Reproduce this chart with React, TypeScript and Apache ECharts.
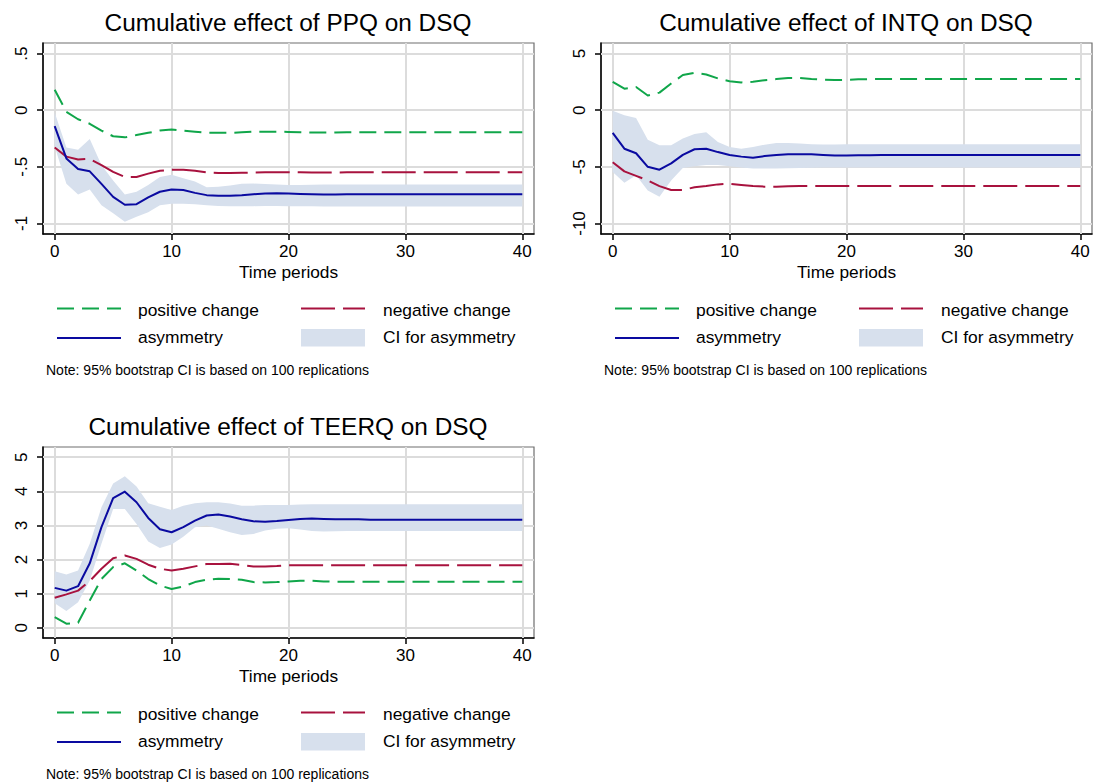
import React, { useEffect, useRef } from "react";
import * as echarts from "echarts";

// ---------- data ----------
const PERIODS = [0, 1, 2, 3, 4, 5, 6, 7, 8, 9, 10, 11, 12, 13, 14, 15, 16, 17, 18, 19, 20, 21, 22, 23, 24, 25, 26, 27, 28, 29, 30, 31, 32, 33, 34, 35, 36, 37, 38, 39, 40];
const X_TICKS = [0, 10, 20, 30, 40];

// PPQ on DSQ
const PPQ_POS = [0.18, -0.015, -0.08, -0.12, -0.18, -0.23, -0.24, -0.22, -0.2, -0.18, -0.17, -0.18, -0.19, -0.2, -0.2, -0.2, -0.195, -0.19, -0.19, -0.19, -0.192, -0.195, -0.197, -0.197, -0.196, -0.195, -0.195, -0.195, -0.195, -0.195, -0.195, -0.195, -0.195, -0.195, -0.195, -0.195, -0.195, -0.195, -0.195, -0.195, -0.195];
const PPQ_NEG = [-0.33, -0.41, -0.435, -0.43, -0.485, -0.545, -0.59, -0.59, -0.56, -0.535, -0.525, -0.525, -0.535, -0.55, -0.555, -0.555, -0.553, -0.55, -0.548, -0.547, -0.547, -0.548, -0.55, -0.551, -0.55, -0.548, -0.548, -0.548, -0.548, -0.548, -0.548, -0.548, -0.548, -0.548, -0.548, -0.548, -0.548, -0.548, -0.548, -0.548, -0.548];
const PPQ_ASYM = [-0.14, -0.426, -0.52, -0.54, -0.65, -0.765, -0.835, -0.83, -0.77, -0.72, -0.7, -0.705, -0.73, -0.75, -0.755, -0.755, -0.75, -0.742, -0.736, -0.733, -0.735, -0.74, -0.743, -0.745, -0.744, -0.743, -0.743, -0.743, -0.743, -0.743, -0.743, -0.743, -0.743, -0.743, -0.743, -0.743, -0.743, -0.743, -0.743, -0.743, -0.743];
const PPQ_HI = [-0.02, -0.33, -0.35, -0.255, -0.485, -0.62, -0.745, -0.72, -0.66, -0.59, -0.57, -0.6, -0.63, -0.68, -0.675, -0.665, -0.65, -0.648, -0.652, -0.655, -0.66, -0.66, -0.658, -0.655, -0.655, -0.655, -0.655, -0.655, -0.655, -0.655, -0.655, -0.655, -0.655, -0.655, -0.655, -0.655, -0.655, -0.655, -0.655, -0.655, -0.655];
const PPQ_LO = [-0.32, -0.65, -0.745, -0.7, -0.84, -0.91, -0.985, -0.94, -0.9, -0.84, -0.825, -0.825, -0.83, -0.84, -0.845, -0.848, -0.848, -0.847, -0.846, -0.846, -0.847, -0.848, -0.849, -0.85, -0.85, -0.85, -0.85, -0.85, -0.85, -0.85, -0.85, -0.85, -0.85, -0.85, -0.85, -0.85, -0.85, -0.85, -0.85, -0.85, -0.85];

// INTQ on DSQ
const INTQ_POS = [2.5, 1.9, 2.05, 1.3, 1.55, 2.35, 3.1, 3.3, 3.15, 2.8, 2.55, 2.45, 2.5, 2.65, 2.75, 2.85, 2.85, 2.75, 2.7, 2.66, 2.68, 2.72, 2.74, 2.75, 2.75, 2.75, 2.75, 2.75, 2.75, 2.75, 2.75, 2.75, 2.75, 2.75, 2.75, 2.75, 2.75, 2.75, 2.75, 2.75, 2.75];
const INTQ_NEG = [-4.6, -5.4, -5.8, -6.2, -6.7, -7.05, -7.05, -6.8, -6.7, -6.55, -6.5, -6.6, -6.7, -6.75, -6.75, -6.72, -6.7, -6.7, -6.7, -6.7, -6.7, -6.7, -6.7, -6.7, -6.7, -6.7, -6.7, -6.7, -6.7, -6.7, -6.7, -6.7, -6.7, -6.7, -6.7, -6.7, -6.7, -6.7, -6.7, -6.7, -6.7];
const INTQ_ASYM = [-2.0, -3.4, -3.8, -5.0, -5.25, -4.7, -3.95, -3.45, -3.4, -3.7, -3.95, -4.1, -4.2, -4.05, -3.95, -3.88, -3.88, -3.9, -3.95, -4.0, -4.0, -3.98, -3.97, -3.96, -3.96, -3.96, -3.96, -3.96, -3.96, -3.96, -3.96, -3.96, -3.96, -3.96, -3.96, -3.96, -3.96, -3.96, -3.96, -3.96, -3.96];
const INTQ_HI = [-0.05, -0.45, -0.7, -2.6, -3.1, -3.1, -2.5, -2.1, -1.95, -2.8, -3.25, -3.4, -3.25, -3.05, -2.9, -2.9, -2.95, -3.0, -3.02, -3.02, -3.0, -3.0, -3.0, -3.0, -3.0, -3.0, -3.0, -3.0, -3.0, -3.0, -3.0, -3.0, -3.0, -3.0, -3.0, -3.0, -3.0, -3.0, -3.0, -3.0, -3.0];
const INTQ_LO = [-5.45, -6.4, -5.75, -7.1, -7.65, -6.2, -5.1, -4.95, -4.85, -4.85, -4.95, -5.05, -5.15, -5.15, -5.15, -5.12, -5.1, -5.08, -5.06, -5.05, -5.05, -5.05, -5.05, -5.05, -5.05, -5.05, -5.05, -5.05, -5.05, -5.05, -5.05, -5.05, -5.05, -5.05, -5.05, -5.05, -5.05, -5.05, -5.05, -5.05, -5.05];

// TEERQ on DSQ
const TEERQ_POS = [0.31, 0.12, 0.15, 0.8, 1.43, 1.78, 1.89, 1.68, 1.43, 1.24, 1.14, 1.21, 1.34, 1.41, 1.44, 1.43, 1.41, 1.34, 1.33, 1.34, 1.36, 1.38, 1.38, 1.36, 1.35, 1.35, 1.35, 1.35, 1.35, 1.35, 1.35, 1.35, 1.35, 1.35, 1.35, 1.35, 1.35, 1.35, 1.35, 1.35, 1.35];
const TEERQ_NEG = [0.88, 0.98, 1.09, 1.37, 1.73, 2.04, 2.12, 2.02, 1.85, 1.73, 1.68, 1.73, 1.8, 1.87, 1.87, 1.875, 1.84, 1.8, 1.8, 1.81, 1.83, 1.83, 1.83, 1.83, 1.83, 1.83, 1.83, 1.83, 1.83, 1.83, 1.83, 1.83, 1.83, 1.83, 1.83, 1.83, 1.83, 1.83, 1.83, 1.83, 1.83];
const TEERQ_ASYM = [1.17, 1.09, 1.22, 1.89, 2.95, 3.8, 3.99, 3.68, 3.22, 2.89, 2.8, 2.95, 3.14, 3.29, 3.32, 3.26, 3.18, 3.12, 3.11, 3.13, 3.16, 3.19, 3.2, 3.19, 3.18, 3.18, 3.18, 3.17, 3.17, 3.17, 3.17, 3.17, 3.17, 3.17, 3.17, 3.17, 3.17, 3.17, 3.17, 3.17, 3.17];
const TEERQ_HI = [1.66, 1.56, 1.68, 2.46, 3.53, 4.23, 4.44, 4.14, 3.65, 3.55, 3.45, 3.58, 3.65, 3.68, 3.68, 3.64, 3.58, 3.58, 3.6, 3.6, 3.6, 3.61, 3.62, 3.62, 3.62, 3.62, 3.62, 3.62, 3.62, 3.62, 3.62, 3.62, 3.62, 3.62, 3.62, 3.62, 3.62, 3.62, 3.62, 3.62, 3.62];
const TEERQ_LO = [0.72, 0.49, 0.75, 1.39, 2.46, 3.48, 3.48, 3.04, 2.53, 2.34, 2.44, 2.67, 2.95, 3.0, 2.9, 2.8, 2.72, 2.75, 2.85, 2.9, 2.92, 2.88, 2.84, 2.82, 2.83, 2.84, 2.84, 2.84, 2.84, 2.84, 2.84, 2.84, 2.84, 2.84, 2.84, 2.84, 2.84, 2.84, 2.84, 2.84, 2.84];

const TITLES = ["Cumulative effect of PPQ on DSQ", "Cumulative effect of INTQ on DSQ", "Cumulative effect of TEERQ on DSQ"];
const Y_TICKS = [[-1, -0.5, 0, 0.5], [-10, -5, 0, 5], [0, 1, 2, 3, 4, 5]];
const Y_RANGES = [[-1.093, 0.593], [-10.93, 5.93], [-0.298, 5.298]];
const LEGEND_LABELS = ["positive change", "negative change", "asymmetry", "CI for asymmetry"];
const NOTE = "Note: 95% bootstrap CI is based on 100 replications";
const X_NAME = "Time periods";

// ---------- styles / layout ----------
const FONT = "'Liberation Sans', Arial, Helvetica, sans-serif";
const GREEN = "#10a64a";
const RED = "#a8123e";
const BLUE = "#0a0aa0";
const CI_FILL = "#d7e0ed";
const GRIDLINE = "#dcdcdc";
const GREEN_DASH = [17, 8];
const RED_DASH = [34, 8];

const LAYOUT = [
  { left: 43, top: 43, dx: 0, dy: 0, titleX: 288, titleY: 22 },
  { left: 601, top: 43, dx: 558, dy: 0, titleX: 846, titleY: 22 },
  { left: 43, top: 447, dx: 0, dy: 404, titleX: 288, titleY: 426 },
];
const GRID_W = 491;
const GRID_H = 191;

const PANEL_DATA = [
  { pos: PPQ_POS, neg: PPQ_NEG, asym: PPQ_ASYM, hi: PPQ_HI, lo: PPQ_LO },
  { pos: INTQ_POS, neg: INTQ_NEG, asym: INTQ_ASYM, hi: INTQ_HI, lo: INTQ_LO },
  { pos: TEERQ_POS, neg: TEERQ_NEG, asym: TEERQ_ASYM, hi: TEERQ_HI, lo: TEERQ_LO },
];

const fmtTick = (v: number) => String(v).replace("0.", ".");

function buildOption() {
  const grid: any[] = [];
  const xAxis: any[] = [];
  const yAxis: any[] = [];
  const series: any[] = [];
  const graphic: any[] = [];

  PANEL_DATA.forEach((p, i) => {
    const L = LAYOUT[i];
    grid.push({
      left: L.left,
      top: L.top,
      width: GRID_W,
      height: GRID_H,
      show: true,
      borderColor: "#6e6e6e",
      borderWidth: 1.2,
      backgroundColor: "transparent",
      containLabel: false,
    });
    xAxis.push({
      type: "value",
      gridIndex: i,
      min: -1,
      max: 41,
      name: X_NAME,
      nameLocation: "middle",
      nameGap: 29,
      nameTextStyle: { fontSize: 17.3, color: "#000", fontFamily: FONT },
      axisLine: { show: true, onZero: false, lineStyle: { color: "#000", width: 1.5 } },
      axisTick: { show: true, length: 6, customValues: X_TICKS, lineStyle: { color: "#000", width: 1.5 } },
      axisLabel: { customValues: X_TICKS, fontSize: 17, color: "#000", fontFamily: FONT, margin: 9 },
      splitLine: { show: false },
    });
    yAxis.push({
      type: "value",
      gridIndex: i,
      min: Y_RANGES[i][0],
      max: Y_RANGES[i][1],
      axisLine: { show: true, onZero: false, lineStyle: { color: "#000", width: 1.5 } },
      axisTick: { show: true, length: 6, customValues: Y_TICKS[i], lineStyle: { color: "#000", width: 1.5 } },
      axisLabel: {
        customValues: Y_TICKS[i],
        rotate: 90,
        fontSize: 17,
        color: "#000",
        fontFamily: FONT,
        margin: 13,
        formatter: (v: number) => fmtTick(v),
      },
      splitLine: { show: false },
    });

    const band = PERIODS.map((t, k) => [t, p.lo[k], p.hi[k]]);
    series.push({
      type: "custom",
      xAxisIndex: i,
      yAxisIndex: i,
      z: 2,
      silent: true,
      encode: { x: 0, y: [1, 2] },
      data: band,
      renderItem: (params: any, api: any) => {
        if (params.dataIndex !== 0) return null;
        const top = band.map((r) => api.coord([r[0], r[2]]));
        const bot = band.map((r) => api.coord([r[0], r[1]])).reverse();
        return {
          type: "polygon",
          shape: { points: top.concat(bot) },
          style: { fill: CI_FILL },
          silent: true,
        };
      },
    });

    const mkLine = (arr: number[], color: string, dash: any, extra: any = {}) => ({
      type: "line",
      xAxisIndex: i,
      yAxisIndex: i,
      z: 3,
      symbol: "none",
      showSymbol: false,
      silent: true,
      data: PERIODS.map((t, k) => [t, arr[k]]),
      lineStyle: { color, width: 2, type: dash, cap: "butt", join: "round" },
      ...extra,
    });

    series.push(
      mkLine(p.pos, GREEN, GREEN_DASH, {
        markLine: {
          silent: true,
          z: 1,
          symbol: ["none", "none"],
          label: { show: false },
          emphasis: { disabled: true },
          lineStyle: { color: GRIDLINE, width: 2, type: "solid" },
          data: [
            ...Y_TICKS[i].map((v) => ({ yAxis: v })),
            ...X_TICKS.map((t) => ({ xAxis: t })),
          ],
        },
      })
    );
    series.push(mkLine(p.neg, RED, RED_DASH));
    series.push(mkLine(p.asym, BLUE, "solid"));

    // title
    graphic.push({
      type: "text",
      x: L.titleX,
      y: L.titleY,
      style: { text: TITLES[i], fill: "#000", font: `24.4px ${FONT}`, align: "center", verticalAlign: "middle" },
    });

    // legend
    const dx = L.dx;
    const dy = L.dy;
    graphic.push(
      { type: "line", shape: { x1: 57 + dx, y1: 308.5 + dy, x2: 121 + dx, y2: 308.5 + dy }, style: { stroke: GREEN, lineWidth: 2, lineDash: GREEN_DASH } },
      { type: "text", x: 138 + dx, y: 310 + dy, style: { text: LEGEND_LABELS[0], fill: "#000", font: `17.4px ${FONT}`, align: "left", verticalAlign: "middle" } },
      { type: "line", shape: { x1: 301 + dx, y1: 308.5 + dy, x2: 365 + dx, y2: 308.5 + dy }, style: { stroke: RED, lineWidth: 2, lineDash: RED_DASH } },
      { type: "text", x: 383 + dx, y: 310 + dy, style: { text: LEGEND_LABELS[1], fill: "#000", font: `17.4px ${FONT}`, align: "left", verticalAlign: "middle" } },
      { type: "line", shape: { x1: 57 + dx, y1: 338 + dy, x2: 121 + dx, y2: 338 + dy }, style: { stroke: BLUE, lineWidth: 2 } },
      { type: "text", x: 138 + dx, y: 337 + dy, style: { text: LEGEND_LABELS[2], fill: "#000", font: `17.4px ${FONT}`, align: "left", verticalAlign: "middle" } },
      { type: "rect", shape: { x: 301 + dx, y: 329 + dy, width: 64, height: 17.5 }, style: { fill: CI_FILL } },
      { type: "text", x: 383 + dx, y: 337 + dy, style: { text: LEGEND_LABELS[3], fill: "#000", font: `17.4px ${FONT}`, align: "left", verticalAlign: "middle" } },
      { type: "text", x: 46 + dx, y: 370 + dy, style: { text: NOTE, fill: "#000", font: `14px ${FONT}`, align: "left", verticalAlign: "middle" } }
    );
  });

  return {
    animation: false,
    backgroundColor: "#fff",
    textStyle: { fontFamily: FONT },
    grid,
    xAxis,
    yAxis,
    series,
    graphic,
  };
}

export default function App() {
  const ref = useRef<HTMLDivElement>(null);
  useEffect(() => {
    if (!ref.current) return;
    const chart = echarts.init(ref.current, null, { renderer: "svg" });
    chart.setOption(buildOption() as any);
    return () => chart.dispose();
  }, []);
  return (
    <div
      ref={ref}
      style={{ position: "absolute", left: 0, top: 0, width: 1099, height: 784, background: "#fff" }}
    />
  );
}
